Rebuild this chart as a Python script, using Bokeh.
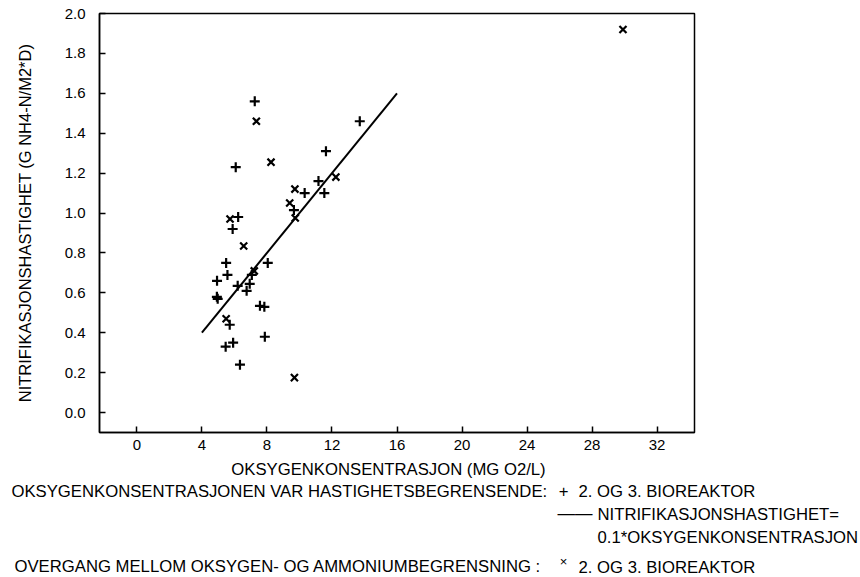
from bokeh.plotting import figure
from bokeh.layouts import column
from bokeh.models import Range1d, Label, FixedTicker, PrintfTickFormatter
from bokeh.embed import file_html
from bokeh.resources import INLINE

# ---- data ----
# "+" : oxygen concentration was rate limiting (bioreactor 2 and 3)
plus_x = [7.25, 6.08, 13.71, 11.63, 11.17, 10.32, 11.53, 9.66, 6.23, 5.89,
          5.49, 8.05, 5.57, 7.07, 4.93, 6.94, 6.20, 6.75, 4.92, 4.97,
          7.57, 7.84, 5.71, 7.87, 5.92, 5.46, 6.34]
plus_y = [1.56, 1.23, 1.46, 1.31, 1.16, 1.10, 1.10, 1.015, 0.98, 0.92,
          0.75, 0.75, 0.69, 0.69, 0.66, 0.645, 0.635, 0.61, 0.58, 0.57,
          0.535, 0.53, 0.44, 0.38, 0.35, 0.33, 0.24]
# "x" : transition between oxygen and ammonium limitation
cross_x = [7.35, 8.25, 12.24, 9.72, 9.40, 9.74, 5.73, 6.57, 7.22, 5.49, 9.69, 29.9]
cross_y = [1.46, 1.255, 1.18, 1.12, 1.05, 0.975, 0.97, 0.835, 0.71, 0.47, 0.175, 1.92]
# line: rate = 0.1 * oxygen concentration
fit_x = [4.0, 16.0]
fit_y = [0.4, 1.6]

x_ticks = [0, 4, 8, 12, 16, 20, 24, 28, 32]
y_ticks = [0.0, 0.2, 0.4, 0.6, 0.8, 1.0, 1.2, 1.4, 1.6, 1.8, 2.0]

x_title = "OKSYGENKONSENTRASJON (MG O2/L)"
y_title = "NITRIFIKASJONSHASTIGHET (G NH4-N/M2*D)"
leg1_text = "OKSYGENKONSENTRASJONEN VAR HASTIGHETSBEGRENSENDE:"
leg_reactor = "2. OG 3. BIOREAKTOR"
leg2_text = "NITRIFIKASJONSHASTIGHET="
leg3_text = "0.1*OKSYGENKONSENTRASJON"
leg4_text = "OVERGANG MELLOM OKSYGEN- OG AMMONIUMBEGRENSNING :"

FONT = "Liberation Sans"
TXT = "16.7px"

W, H = 860, 577
TOP_H = 455
L, R, T, B = 99, 694, 13, 432
X0, X1 = -2.3, 34.3
Y0, Y1 = -0.1, 2.0

p = figure(width=W, height=TOP_H, output_backend="svg", toolbar_location=None,
           x_range=Range1d(X0, X1), y_range=Range1d(Y0, Y1),
           min_border_left=L, min_border_right=W - R,
           min_border_top=T, min_border_bottom=TOP_H - B)
p.frame_align = False
p.background_fill_color = "white"
p.border_fill_color = "white"
p.grid.visible = False
p.outline_line_color = "black"
p.outline_line_width = 1.5

for ax in (p.xaxis[0], p.yaxis[0]):
    ax.axis_line_width = 1.5
    ax.axis_line_color = "black"
    ax.major_tick_in = 6
    ax.major_tick_out = 0
    ax.major_tick_line_width = 1.5
    ax.major_tick_line_color = "black"
    ax.minor_tick_line_color = None
    ax.major_label_text_font = FONT
    ax.major_label_text_font_size = "15px"
    ax.major_label_text_color = "black"

p.xaxis.ticker = FixedTicker(ticks=x_ticks)
p.yaxis.ticker = FixedTicker(ticks=y_ticks)
p.yaxis.formatter = PrintfTickFormatter(format="%.1f")
p.xaxis.major_label_standoff = 7
p.yaxis.major_label_standoff = 14

p.yaxis.axis_label = y_title
p.yaxis.axis_label_text_font = FONT
p.yaxis.axis_label_text_font_size = "16.5px"
p.yaxis.axis_label_text_font_style = "normal"
p.yaxis.axis_label_text_color = "black"
p.yaxis.axis_label_standoff = 28

p.line(fit_x, fit_y, line_color="black", line_width=2)
p.scatter(plus_x, plus_y, marker="cross", size=10, line_color="black", line_width=2.2)
p.scatter(cross_x, cross_y, marker="x", size=10, line_color="black", line_width=2.2)

# ---- lower panel: axis title and key (page pixel coordinates) ----
q = figure(width=W, height=H - TOP_H, output_backend="svg", toolbar_location=None,
           x_range=Range1d(0, W), y_range=Range1d(H, TOP_H),
           x_axis_location=None, y_axis_location=None,
           min_border=0, min_border_left=0, min_border_right=0,
           min_border_top=0, min_border_bottom=0)
q.frame_align = False
q.grid.visible = False
q.outline_line_color = None
q.background_fill_color = "white"
q.border_fill_color = "white"


def add_text(px, py, text, size=TXT, align="left"):
    q.add_layout(Label(x=px, y=py, text=text, text_font=FONT,
                       text_font_size=size, text_align=align,
                       text_baseline="middle", text_color="black"))


add_text(388, 469, x_title, align="center")
add_text(11, 491, leg1_text)
add_text(563, 490, "+", align="center")
add_text(578, 491, leg_reactor)
add_text(557, 512, "\u2014\u2014", size="17.5px")
add_text(597, 514, leg2_text)
add_text(597, 537, leg3_text)
add_text(14, 566, leg4_text)
add_text(563, 561, "\u00d7", size="13px", align="center")
add_text(578, 567, leg_reactor)

layout = column(p, q, spacing=0)
open("out.html", "w").write(file_html(layout, INLINE))
